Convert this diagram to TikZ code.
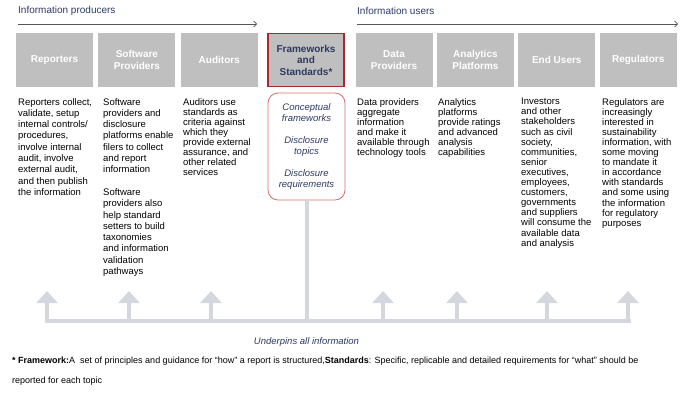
\documentclass[tikz,border=0pt]{standalone}
\usepackage{fontspec}
\setmainfont{Liberation Sans}
\usetikzlibrary{positioning, arrows.meta}

\definecolor{boxgray}{RGB}{191,191,191}
\definecolor{navy}{RGB}{44,58,100}
\definecolor{fwred}{RGB}{170,40,45}
\definecolor{softred}{RGB}{212,110,110}
\definecolor{bargray}{RGB}{212,216,222}
\definecolor{headline}{RGB}{85,85,90}

\begin{document}
\begin{tikzpicture}[
    x=1pt, y=-1pt,
    node distance=4pt,
    actor/.style={rectangle, fill=boxgray, minimum width=77pt, minimum height=54pt, inner sep=2pt, align=center, text=white, font=\fontsize{10}{11.5}\selectfont\bfseries},
    framebox/.style={actor, draw=fwred, line width=1.4pt, minimum width=76pt, minimum height=52.5pt, text=navy},
    desc/.style={anchor=north west, align=left, inner sep=0pt, font=\fontsize{9.5}{10.1}\selectfont},
    descwide/.style={desc, font=\fontsize{9.5}{11.3}\selectfont},
    heading/.style={anchor=west, inner sep=0pt, text=navy, font=\fontsize{10}{12}\selectfont},
    headarrow/.style={-{Straight Barb[length=3pt, width=6pt]}, headline, line width=0.7pt},
    bar/.style={bargray, line width=4pt},
    uparrow/.style={bargray, line width=4pt, -{Triangle[width=21pt, length=12pt]}},
    listbox/.style={draw=softred, line width=0.8pt, rounded corners=10pt, minimum width=77pt, minimum height=107pt, align=center, text=navy, font=\fontsize{9.5}{11}\selectfont\itshape}
]
\useasboundingbox (0,0) rectangle (700,405);

% Headings with arrows
\node[heading] (prod) at (18,11) {Information producers};
\node[heading] (user) at (357,11) {Information users};
\coordinate (prodL) at (18,24);
\coordinate (prodR) at (257,24);
\coordinate (userL) at (357,24);
\coordinate (userR) at (678,24);
\draw[headarrow] (prodL) -- (prodR);
\draw[headarrow] (userL) -- (userR);

% Top row of boxes
\node[actor] (rep) at (54.5,60) {Reporters};
\node[actor, right=5pt of rep] (soft) {Software\\Providers};
\node[actor, right=5pt of soft] (aud) {Auditors};
\node[framebox] (fw) at (306,60) {Frameworks\\and\\Standards*};
\node[actor] (data) at (394,60) {Data\\Providers};
\node[actor, right=of data] (anl) {Analytics\\Platforms};
\node[actor, right=of anl] (endu) {End Users};
\node[actor, right=of endu] (reg) {Regulators};

% Descriptions
\node[descwide] (reptxt) at (18,98) {Reporters collect,\\validate, setup\\internal controls/\\procedures,\\involve internal\\audit, involve\\external audit,\\and then publish\\the information};
\node[descwide] (softtxt) at (103,98) {Software\\providers and\\disclosure\\platforms enable\\filers to collect\\and report\\information\\[11.3pt]Software\\providers also\\help standard\\setters to build\\taxonomies\\and information\\validation\\pathways};
\node[desc] (audtxt) at (183,98) {Auditors use\\standards as\\criteria against\\which they\\provide external\\assurance, and\\other related\\services};
\node[desc] (datatxt) at (357,98) {Data providers\\aggregate\\information\\and make it\\available through\\technology tools};
\node[desc] (anltxt) at (438,98) {Analytics\\platforms\\provide ratings\\and advanced\\analysis\\capabilities};
\node[desc] (endutxt) at (521,98) {Investors\\and other\\stakeholders\\such as civil\\society,\\communities,\\senior\\executives,\\employees,\\customers,\\governments\\and suppliers\\will consume the\\available data\\and analysis};
\node[desc] (regtxt) at (602,98) {Regulators are\\increasingly\\interested in\\sustainability\\information, with\\some moving\\to mandate it\\in accordance\\with standards\\and some using\\the information\\for regulatory\\purposes};

% Framework contents
\node[listbox] (fwlist) at (306.5,146.5) {Conceptual\\frameworks\\[11pt]Disclosure\\topics\\[11pt]Disclosure\\requirements};

% Underpinning bar
\coordinate (barL) at (45,321);
\coordinate (barR) at (631,321);
\draw[bar] (barL) -- (barR);
\draw[bar] (fwlist.south) -- (fwlist.south |- barL);
\foreach \x [count=\i] in {47,129,211,383,457,547,628} {
  \coordinate (foot\i) at (\x,323);
  \coordinate (tip\i) at (\x,291);
  \draw[uparrow] (foot\i) -- (tip\i);
}
\node[text=navy, font=\fontsize{9.5}{11}\selectfont\itshape] (under) at (306.5,342) {Underpins all information};

% Footnote
\node[anchor=north west, align=left, inner sep=0pt, font=\fontsize{9}{20}\selectfont] (note) at (12,357) {\textbf{* Framework:}A\ \ set of principles and guidance for ``how'' a report is structured,\textbf{Standards}: Specific, replicable and detailed requirements for ``what'' should be\\reported for each topic};

\end{tikzpicture}
\end{document}
